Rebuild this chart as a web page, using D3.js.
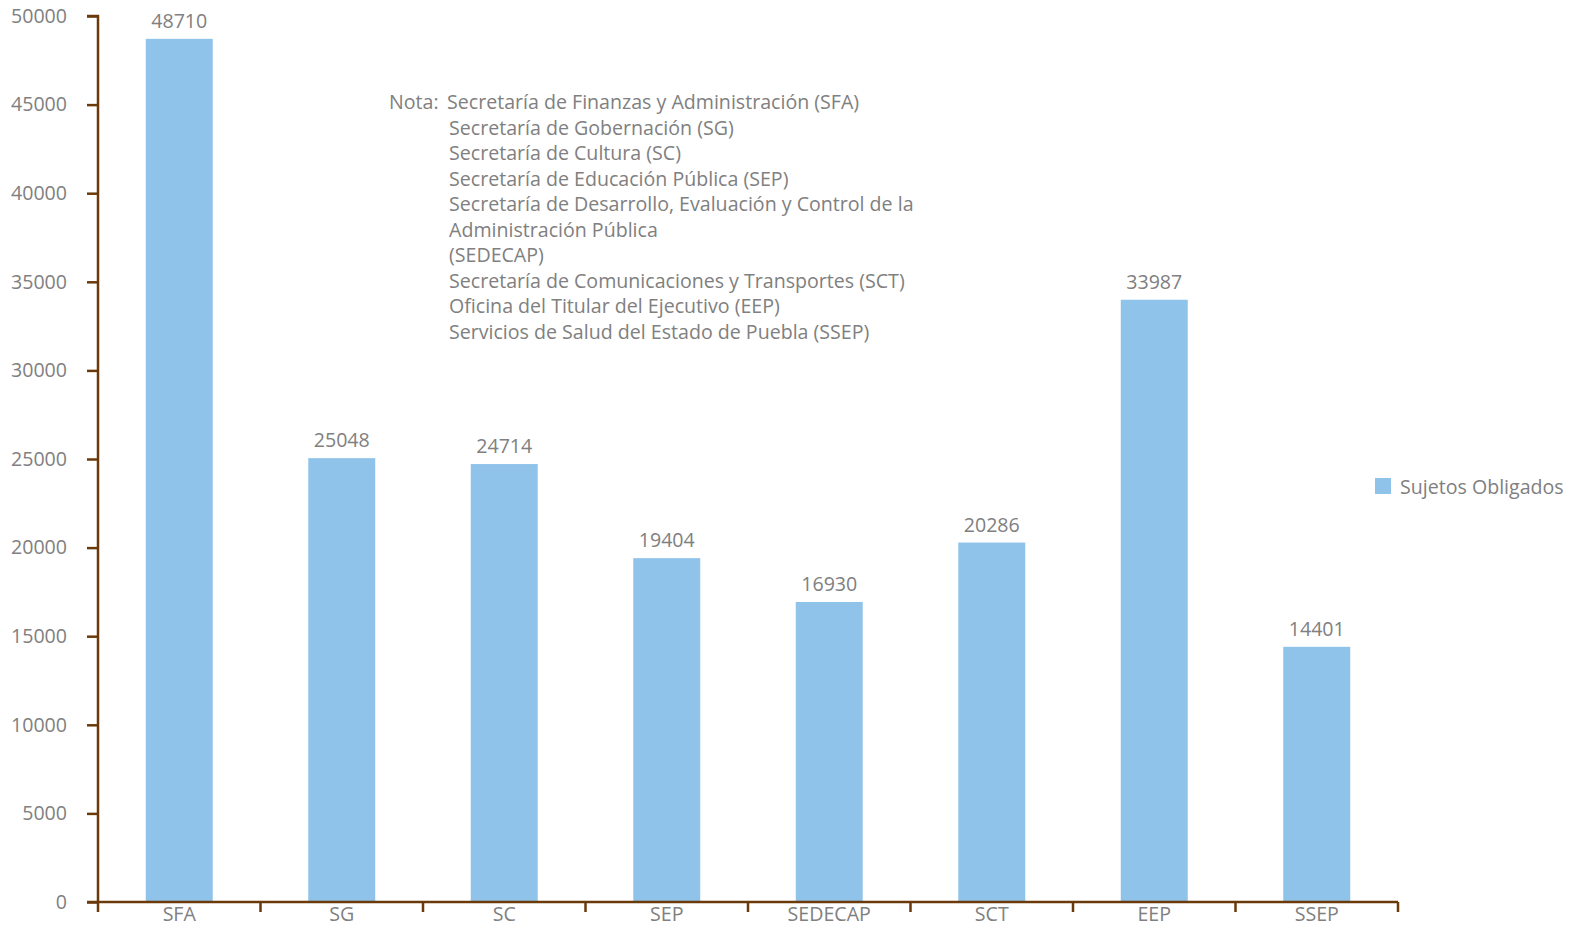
<!DOCTYPE html>
<html>
<head>
<meta charset="utf-8">
<script src="https://cdn.jsdelivr.net/npm/d3@7"></script>
<style>
  body { margin: 0; background: #fff; }
  text { font-family: "Open Sans", sans-serif; fill: #808080; }
</style>
</head>
<body>
<div id="container"></div>
<script>
var categories = ["SFA", "SG", "SC", "SEP", "SEDECAP", "SCT", "EEP", "SSEP"];
var values = [48710, 25048, 24714, 19404, 16930, 20286, 33987, 14401];
var yTicks = [0, 5000, 10000, 15000, 20000, 25000, 30000, 35000, 40000, 45000, 50000];
var seriesName = "Sujetos Obligados";
var noteLines = [
  "Secretaría de Finanzas y Administración (SFA)",
  "Secretaría de Gobernación (SG)",
  "Secretaría de Cultura (SC)",
  "Secretaría de Educación Pública (SEP)",
  "Secretaría de Desarrollo, Evaluación y Control de la",
  "Administración Pública",
  "(SEDECAP)",
  "Secretaría de Comunicaciones y Transportes (SCT)",
  "Oficina del Titular del Ejecutivo (EEP)",
  "Servicios de Salud del Estado de Puebla (SSEP)"
];

var width = 1576, height = 928;
var margin = {top: 16, right: 178, bottom: 26, left: 98};
var axisColor = "#6b3a0a", barColor = "#8fc3e9";
var fs = "19.6px";

var svg = d3.select("#container").append("svg")
  .attr("width", width)
  .attr("height", height);

var x = d3.scaleBand().domain(categories)
  .range([margin.left, width - margin.right])
  .paddingInner(0.588).paddingOuter(0.294);
var y = d3.scaleLinear().domain([0, 50000]).range([height - margin.bottom, margin.top]);

// bars
svg.selectAll("rect.bar")
  .data(values)
  .enter()
  .append("rect")
    .attr("class", "bar")
    .attr("x", (d, i) => x(categories[i]))
    .attr("y", d => y(d))
    .attr("width", x.bandwidth())
    .attr("height", d => y(0) - y(d))
    .attr("fill", barColor);

// value labels
svg.selectAll("text.val")
  .data(values)
  .enter()
  .append("text")
    .attr("class", "val")
    .attr("x", (d, i) => x(categories[i]) + x.bandwidth() / 2)
    .attr("y", d => y(d) - 11)
    .attr("text-anchor", "middle")
    .style("font-size", fs)
    .text(d => d);

// y axis
var yAxis = svg.append("g")
  .attr("transform", "translate(" + margin.left + ",0)")
  .call(d3.axisLeft(y).tickValues(yTicks).tickSize(11).tickPadding(20).tickFormat(d3.format("d")));
yAxis.select(".domain").attr("stroke", axisColor).attr("stroke-width", 2.5).attr("d", "M-11," + y(50000) + "H0V" + y(0));
yAxis.selectAll(".tick line").attr("stroke", axisColor).attr("stroke-width", 2.5);
yAxis.selectAll(".tick text").style("font-size", fs).attr("fill", "#808080").style("font-family", "Open Sans");

// x axis with boundary ticks
var xg = svg.append("g").attr("transform", "translate(0," + y(0) + ")");
xg.append("line")
  .attr("x1", margin.left - 11).attr("x2", width - margin.right)
  .attr("stroke", axisColor).attr("stroke-width", 2.5);
var step = x.step();
var bounds = d3.range(categories.length + 1).map(i => margin.left + i * step);
xg.selectAll("line.bt")
  .data(bounds)
  .enter()
  .append("line")
    .attr("class", "bt")
    .attr("x1", d => d).attr("x2", d => d)
    .attr("y1", 0).attr("y2", 10)
    .attr("stroke", axisColor).attr("stroke-width", 2.5);
xg.selectAll("text.cat")
  .data(categories)
  .enter()
  .append("text")
    .attr("class", "cat")
    .attr("x", d => x(d) + x.bandwidth() / 2)
    .attr("y", 19)
    .attr("text-anchor", "middle")
    .style("font-size", fs)
    .text(d => d);

// note
var note = svg.append("g");
note.append("text").attr("x", 389).attr("y", 109).style("font-size", fs).text("Nota:");
note.selectAll("text.line")
  .data(noteLines)
  .enter()
  .append("text")
    .attr("class", "line")
    .attr("x", (d, i) => i == 0 ? 447 : 449)
    .attr("y", (d, i) => 109 + i * 25.5)
    .style("font-size", fs)
    .text(d => d);

// legend
svg.append("rect").attr("x", 1375).attr("y", 478).attr("width", 16).attr("height", 16).attr("fill", barColor);
svg.append("text").attr("x", 1400).attr("y", 494).style("font-size", fs).text(seriesName);
</script>
</body>
</html>
